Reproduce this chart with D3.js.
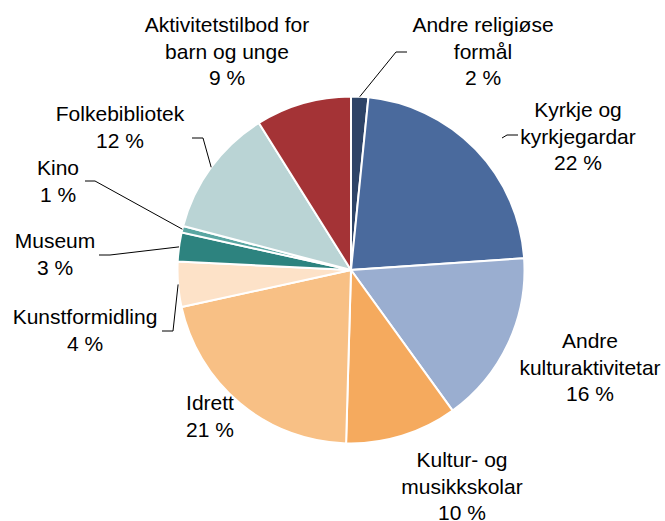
<!DOCTYPE html>
<html>
<head>
<meta charset="utf-8">
<script src="https://cdn.jsdelivr.net/npm/d3@7"></script>
<style>
  body { margin: 0; background: #fff; }
  text { font-family: "Liberation Sans", Arial, sans-serif; font-size: 21px; fill: #000; }
</style>
</head>
<body>
<div id="chart"></div>
<script>
// data, clockwise from 12 o'clock
const categories = [
  "Andre religiøse\nformål",
  "Kyrkje og\nkyrkjegardar",
  "Andre\nkulturaktivitetar",
  "Kultur- og\nmusikkskolar",
  "Idrett",
  "Kunstformidling",
  "Museum",
  "Kino",
  "Folkebibliotek",
  "Aktivitetstilbod for\nbarn og unge"
];
const shares = [1.6, 22.3, 16.1, 10.4, 21.1, 4.2, 2.7, 0.6, 12.0, 8.9];
const colors = ["#2e4467", "#4a6a9d", "#9aaed0", "#f5aa5e", "#f8c085",
                "#fde2c8", "#2d837f", "#5aa6a2", "#bad4d5", "#a43336"];

const W = 665, H = 521;
const cx = 351, cy = 270, R = 173.5;
const lineH = 26.7;

// label placement: x centre, first baseline, leader elbow points (null = no leader)
const labelPos = [
  {x: 483, y: 32,  leader: [[396, 52], [407, 52]]},
  {x: 578, y: 117, leader: null},
  {x: 590, y: 348, leader: null},
  {x: 462, y: 467, leader: null},
  {x: 210, y: 410, leader: null},
  {x: 85,  y: 324, leader: [[173, 331], [162, 331]]},
  {x: 55,  y: 248, leader: [[110, 255], [99, 255]]},
  {x: 58,  y: 175, leader: [[95, 181], [85, 181]]},
  {x: 120, y: 121, leader: [[203, 138], [192, 138]]},
  {x: 227, y: 32,  leader: null}
];

const svg = d3.select("#chart").append("svg")
  .attr("width", W).attr("height", H);

const pie = d3.pie().sort(null).value(d => d);
const arcs = pie(shares);
const arc = d3.arc().innerRadius(0).outerRadius(R);

const g = svg.append("g").attr("transform", `translate(${cx},${cy})`);

g.selectAll("path")
  .data(arcs)
  .enter().append("path")
  .attr("d", arc)
  .attr("fill", (d, i) => colors[i])
  .attr("stroke", "#fff")
  .attr("stroke-width", 2)
  .attr("stroke-linejoin", "miter");

// leader lines start on the rim at the slice middle
arcs.forEach((a, i) => {
  const lp = labelPos[i];
  if (!lp.leader) return;
  const mid = (a.startAngle + a.endAngle) / 2;
  const p0 = [cx + R * Math.sin(mid), cy - R * Math.cos(mid)];
  svg.append("path")
    .attr("d", d3.line()([p0].concat(lp.leader)))
    .attr("fill", "none")
    .attr("stroke", "#000")
    .attr("stroke-width", 1);
});

// small tick next to the Kyrkje label
svg.append("path")
  .attr("d", d3.line()([[502, 138], [507, 135], [518, 135]]))
  .attr("fill", "none").attr("stroke", "#000").attr("stroke-width", 1);

// labels
arcs.forEach((a, i) => {
  const lp = labelPos[i];
  const lines = categories[i].split("\n").concat([Math.round(shares[i]) + " %"]);
  const t = svg.append("text")
    .attr("text-anchor", "middle");
  lines.forEach((s, k) => {
    t.append("tspan")
      .attr("x", lp.x)
      .attr("y", lp.y + k * lineH)
      .text(s);
  });
});
</script>
</body>
</html>
